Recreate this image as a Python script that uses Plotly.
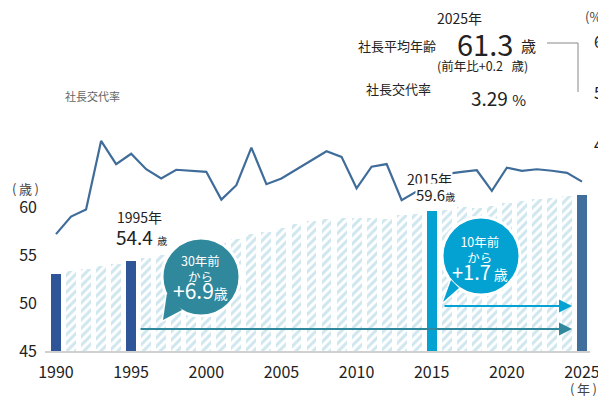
import plotly.graph_objects as go

# ---------------- data ----------------
years = list(range(1990, 2026))
avg_age = [53.0, 53.3, 53.5, 53.9, 54.1, 54.4, 54.7, 55.0, 55.3, 55.6,
           56.0, 56.3, 56.7, 57.2, 57.4, 57.8, 58.2, 58.5, 58.7, 58.9,
           58.9, 58.9, 58.7, 59.2, 59.3, 59.6, 59.7, 60.0, 59.9, 60.1,
           60.4, 60.6, 60.8, 60.9, 61.1, 61.3]
turnover_rate = [2.27, 2.61, 2.75, 4.08, 3.63, 3.83, 3.53, 3.35, 3.52, 3.50,
                 3.48, 2.94, 3.22, 3.95, 3.24, 3.35, 3.53, 3.71, 3.88, 3.77,
                 3.16, 3.58, 3.63, 2.93, 3.10, 3.29, 3.44, 3.48, 3.51, 3.11,
                 3.56, 3.50, 3.53, 3.50, 3.46, 3.29]
x_tick_years = [1990, 1995, 2000, 2005, 2010, 2015, 2020, 2025]
age_ticks = [45, 50, 55, 60]
rate_ticks = [4, 5, 6]
highlight_years = [1990, 1995, 2015, 2025]

# ---------------- styling ----------------
FONT = "Noto Sans CJK JP"
DARK = "#2e5597"
CYAN = "#04a2d2"
STEEL = "#416f9d"
TEAL = "#2f889c"
HATCH_BG = "#cfe6ee"
HATCH_FG = "#dcefd6"
LINE_C = "#3f6c99"
TXT = "#222222"

hl_color = {1990: DARK, 1995: DARK, 2015: CYAN, 2025: STEEL}
bar_colors = [hl_color.get(y, HATCH_BG) for y in years]
bar_shapes = ["" if y in highlight_years else "/" for y in years]

# plot-area geometry in screen pixels; the page body adds an 8px offset
OFF = 8
L, R, T, B = 45, 590, 42, 351
W, H = 606, 401


def px(x):
    return (x - L) / (R - L)


def py(y):
    return (B - y) / (B - T)


fig = go.Figure()
fig.add_bar(
    x=years, y=avg_age, width=0.66,
    marker=dict(color=bar_colors, line=dict(width=0),
                pattern=dict(shape=bar_shapes, fgcolor=HATCH_FG, bgcolor=HATCH_BG,
                             size=6, solidity=0.5, fillmode="replace")),
    hoverinfo="skip",
)
fig.add_scatter(
    x=years, y=turnover_rate, yaxis="y2", mode="lines",
    line=dict(color=LINE_C, width=2.2), hoverinfo="skip",
)

shapes = []
annotations = []


def text(x, y, s, size, color=TXT, xanchor="center", **kw):
    annotations.append(dict(
        x=px(x), y=py(y), xref="paper", yref="paper", text=s,
        showarrow=False, xanchor=xanchor, yanchor="middle",
        font=dict(family=FONT, size=size, color=color), **kw))


def bubble(cx, cy, r, color, tip, p1, p2):
    tri = "M {} {} L {} {} L {} {} Z".format(
        px(p1[0]), py(p1[1]), px(tip[0]), py(tip[1]), px(p2[0]), py(p2[1]))
    shapes.append(dict(type="path", path=tri, xref="paper", yref="paper",
                       fillcolor=color, line=dict(color="white", width=3)))
    shapes.append(dict(type="circle", xref="paper", yref="paper",
                       x0=px(cx - r), x1=px(cx + r), y0=py(cy + r), y1=py(cy - r),
                       fillcolor=color, line=dict(color="white", width=3)))
    shapes.append(dict(type="path", path=tri, xref="paper", yref="paper",
                       fillcolor=color, line=dict(width=0)))


# bubbles
bubble(201, 277, 39, TEAL, (163, 320), (167, 293), (182, 310))
bubble(481, 256, 39, CYAN, (443, 302), (451, 280), (459, 288))

# arrows
for (x0, x1, y, c) in [(139, 572, 329, TEAL), (443, 572, 306, CYAN)]:
    annotations.append(dict(
        x=px(x1), y=py(y), xref="paper", yref="paper", text="",
        showarrow=True, ax=x0 - x1, ay=0, axref="pixel", ayref="pixel",
        arrowhead=2, arrowsize=1.3, arrowwidth=2, arrowcolor=c, standoff=0))

# bracket line in header
shapes.append(dict(type="path", xref="paper", yref="paper",
                   path="M {} {} L {} {} L {} {}".format(
                       px(547), py(43), px(578), py(43), px(578), py(92)),
                   line=dict(color="#888888", width=1)))

# bubble texts (one block each, line spacing from the 12px base font)
text(200, 278,
     "30年前<br>から<br><span style='font-size:21px'>+6.9</span>"
     "<span style='font-size:14px'>歳</span>", 12.5, "white")
text(480, 259,
     "10年前<br>から<br><span style='font-size:20px'>+1.7</span>"
     "<span style='font-size:14px'>\u2009歳</span>", 12.5, "white")

# bar callouts
text(115, 217, "1995年", 14, xanchor="left")
text(114, 237, "54.4 <span style='font-size:10px'>歳</span>", 19, xanchor="left")
text(429, 179, "2015年", 14, bgcolor="white", borderpad=0)
text(435, 194, "59.6<span style='font-size:10px'>歳</span>", 15, bgcolor="white", borderpad=0)

# axis titles / labels
text(25, 188, "(\u2009歳\u2009)", 13, "#444444")
text(92, 96, "社長交代率", 11, "#666666")
text(595, 17, "(%)", 13, "#444444")
text(583, 388, "(\u2009年\u2009)", 13, "#444444")

# header
text(459, 18, "2025年", 14)
text(438, 46, "社長平均年齢", 13, xanchor="right")
text(455, 43, "61.3", 29, xanchor="left")
text(528, 46, "歳", 15)
text(482, 66, "(前年比+0.2\u00a0\u00a0\u00a0歳)", 12.5)
text(398, 88, "社長交代率", 13)
text(469, 97, "3.29 <span style='font-size:15px'>%</span>", 19, xanchor="left")

fig.update_layout(
    width=W, height=H,
    margin=dict(l=L - OFF, r=W - (R - OFF), t=T - OFF, b=H - (B - OFF),
                autoexpand=False),
    paper_bgcolor="white", plot_bgcolor="white",
    showlegend=False, bargap=0,
    font=dict(family=FONT, color=TXT),
    xaxis=dict(range=[1989.268, 2025.532], tickvals=x_tick_years,
               showline=True, linecolor="#d0d0d0", linewidth=2,
               showgrid=False, zeroline=False, ticks="", automargin=False,
               ticklabelstandoff=6,
               tickfont=dict(size=16, color=TXT, family=FONT)),
    yaxis=dict(range=[45, 45 + (B - T) / 9.6], tickvals=age_ticks,
               showgrid=False, zeroline=False, ticks="", automargin=False,
               ticklabelstandoff=7,
               tickfont=dict(size=16, color=TXT, family=FONT)),
    yaxis2=dict(range=[0, (B - T) / 51.5 + 0.001], tickvals=rate_ticks,
                overlaying="y", side="right", automargin=False,
                ticklabelstandoff=3,
                showgrid=False, zeroline=False, ticks="",
                tickfont=dict(size=16, color=TXT, family=FONT)),
    shapes=shapes, annotations=annotations,
)

fig.write_html("out.html", config={"displayModeBar": False})
